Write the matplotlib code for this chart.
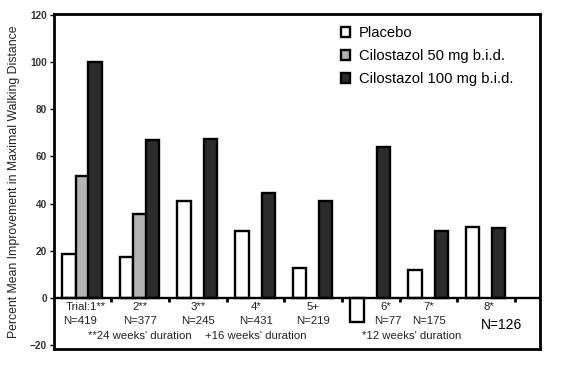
import matplotlib
matplotlib.use('Agg')
import matplotlib.pyplot as plt
import numpy as np

plt.rcParams['font.family'] = ['Liberation Sans', 'DejaVu Sans']

trials = ['Trial:1**', '2**', '3**', '4*', '5+', '6*', '7*', '8*']
n_labels = ['N=419', 'N=377', 'N=245', 'N=431', 'N=219', 'N=77', 'N=175', 'N=126']
placebo = [18.5, 17.3, 41, 28.3, 12.6, -10.2, 11.9, 30.2]
cilo50 = [51.5, 35.5, None, None, None, None, None, None]
cilo100 = [100, 67, 67.5, 44.5, 41, 64, 28.3, 29.5]
durations = ["**24 weeks' duration", "+16 weeks' duration", "*12 weeks' duration"]

x = np.arange(len(trials))
w = 0.24

fig = plt.figure(figsize=(5.72, 3.75), dpi=100)
ax = fig.add_axes([0.094, 0.069, 0.850, 0.894])

edge = dict(edgecolor='black', linewidth=1.7)
ax.bar(x - w, placebo, w, color='white', label='Placebo', **edge)
c50 = [(i, v) for i, v in enumerate(cilo50) if v is not None]
ax.bar([i for i, _ in c50], [v for _, v in c50], w, color='#b4b4b4',
       label='Cilostazol 50 mg b.i.d.', **edge)
ax.bar(x + w * 0.9, cilo100, w * 0.95, color='#2b2b2b',
       label='Cilostazol 100 mg b.i.d.', **edge)

ax.set_xlim(-0.5, 7.93)
ax.set_ylim(-21.7, 120.4)
ax.axhline(0, color='black', lw=1.7)
ax.vlines(np.arange(0.5, 8, 1), -1.6, 0, color='black', lw=2)

ax.set_yticks(np.arange(-20, 121, 20))
ax.tick_params(axis='y', labelsize=7.2, length=3, width=1, pad=2)
for t in ax.get_yticklabels():
    t.set_fontweight('bold')
    t.set_color('#333333')
ax.set_xticks([])
for s in ax.spines.values():
    s.set_linewidth(2)

ax.set_ylabel('Percent Mean Improvement in Maximal Walking Distance',
              fontsize=8.8, color='#222222')
ax.yaxis.set_label_coords(-0.07, 0.5)

tx = [0.05, 0, 0, 0, 0, 0.25, 0, 0.05]
nx = [-0.05, 0, 0, 0, 0, 0.3, 0, 0.27]
for i in range(len(trials)):
    ax.text(i + tx[i], -1.6, trials[i], ha='center', va='top', fontsize=8.2, color='#222222')
    if i == 7:
        ax.text(i + nx[i], -8.3, n_labels[i], ha='center', va='top', fontsize=10)
    else:
        ax.text(i + nx[i], -7.8, n_labels[i], ha='center', va='top', fontsize=8.2, color='#222222')

dur_x = [1.0, 3.0, 5.7]
for dx, d in zip(dur_x, durations):
    ax.text(dx, -14.1, d, ha='center', va='top', fontsize=8.2, color='#222222')

ax.legend(loc='upper left', bbox_to_anchor=(0.578, 0.98), frameon=False,
          fontsize=10.6, handlelength=0.65, handleheight=0.65, handletextpad=0.6,
          labelspacing=0.6, borderaxespad=0)

plt.savefig('out.png', dpi=100)
